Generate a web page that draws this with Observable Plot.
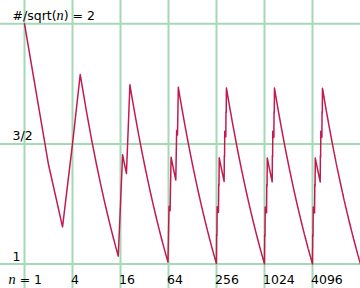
<!DOCTYPE html>
<html><head><meta charset="utf-8">
<script src="https://cdn.jsdelivr.net/npm/d3@7"></script>
<script src="https://cdn.jsdelivr.net/npm/@observablehq/plot@0.6"></script>
<style>html,body{margin:0;padding:0;background:#fff} svg{display:block}</style>
</head><body><div id="chart"></div>
<script>
// Moser–de Bruijn numbers (sums of distinct powers of 4), counted up to n, incl. 0
const mdbNumbers = [
  0,1,4,5,16,17,20,21,64,65,68,69,80,81,84,85,
  256,257,260,261,272,273,276,277,320,321,324,325,336,337,340,341,
  1024,1025,1028,1029,1040,1041,1044,1045,1088,1089,1092,1093,1104,1105,1108,1109,
  1280,1281,1284,1285,1296,1297,1300,1301,1344,1345,1348,1349,1360,1361,1364,1365,
  4096,4097,4100,4101,4112,4113,4116,4117,4160,4161,4164,4165,4176,4177,4180,4181,
  4352,4353,4356,4357,4368,4369,4372,4373,4416,4417,4420,4421,4432,4433,4436,4437,
  5120,5121,5124,5125,5136,5137,5140,5141,5184,5185,5188,5189,5200,5201,5204,5205,
  5376,5377,5380,5381,5392,5393,5396,5397,5440,5441,5444,5445,5456,5457,5460,5461,
  16384
];
const nMax = 16384;
const xGrid = [1, 4, 16, 64, 256, 1024, 4096];
const xTickLabels = ["n = 1", "4", "16", "64", "256", "1024", "4096"];
const yGrid = [1, 1.5, 2];
const yTickLabels = ["1", "3/2", "#/sqrt(n) = 2"];

// chart quantity: count / sqrt(n)
const series = [];
{
  let c = 0, j = 0;
  for (let n = 1; n <= nMax; n++) {
    while (j < mdbNumbers.length && mdbNumbers[j] <= n) { c++; j++; }
    series.push({n, v: c / Math.sqrt(n)});
  }
}

const gridColor = "#a3d9b6";
const lineColor = "#c21a4f";
const font = "DejaVu Sans";
const fs = 12.5;

const xLab = xGrid.map((n, i) => ({n, label: xTickLabels[i]}));
const yLab = yGrid.map((v, i) => ({v, label: yTickLabels[i]}));

const chart = Plot.plot({
  width: 360, height: 288,
  margin: 0,
  style: {background: "#fff", fontFamily: font},
  x: {type: "log", base: 4, domain: [1, nMax], range: [24, 360], axis: null},
  y: {domain: [1, 2], range: [263.5, 23.3], axis: null},
  marks: [
    Plot.ruleX(xGrid, {x: d => d, stroke: gridColor, strokeWidth: 2}),
    Plot.ruleY(yGrid, {y: d => d, stroke: gridColor, strokeWidth: 2}),
    Plot.line(series, {x: "n", y: "v", stroke: lineColor, strokeWidth: 1.5, clip: false}),
    Plot.text(yLab, {x: 1, y: "v", text: "label", textAnchor: "start", lineAnchor: "bottom",
      dx: -12, dy: -3.5, fontSize: fs, fontFamily: font, fill: "#000"}),
    Plot.text(xLab.slice(0, 1), {x: "n", y: 1, text: "label", textAnchor: "start", lineAnchor: "bottom",
      dx: -16, dy: 20, fontSize: fs, fontFamily: font, fill: "#000"}),
    Plot.text(xLab.slice(1), {x: "n", y: 1, text: "label", textAnchor: "start", lineAnchor: "bottom",
      dx: -1.5, dy: 20, fontSize: fs, fontFamily: font, fill: "#000"})
  ]
});

// italic variable n
d3.select(chart).selectAll("text").each(function() {
  const t = this.textContent;
  if (!t.includes("n")) return;
  const parts = t.split("n");
  const sel = d3.select(this);
  sel.text(null);
  parts.forEach((p, i) => {
    if (p) sel.append("tspan").text(p);
    if (i < parts.length - 1) sel.append("tspan")
      .attr("font-family", "Liberation Serif").attr("font-style", "italic")
      .attr("font-size", "1.15em").text("n");
  });
});

document.getElementById("chart").appendChild(chart);
</script>
</body></html>
